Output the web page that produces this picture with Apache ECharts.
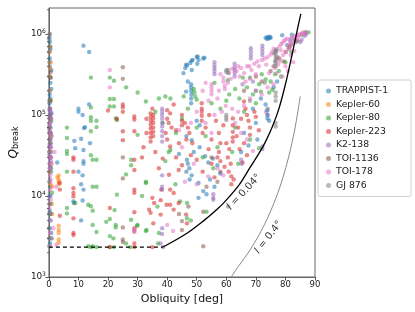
<!DOCTYPE html>
<html><head><meta charset="utf-8">
<script src="https://cdn.jsdelivr.net/npm/echarts@6/dist/echarts.min.js"></script>
<style>html,body{margin:0;padding:0;background:#fff}#c{width:415px;height:312px}</style>
</head><body><div id="c"></div>
<script>
// ---------- data (obliquity [deg], Q_break) ----------
const seriesNames = ['TRAPPIST-1','Kepler-60','Kepler-80','Kepler-223','K2-138','TOI-1136','TOI-178','GJ 876'];
const colors = ['#1f77b4','#ff7f0e','#2ca02c','#d62728','#9467bd','#8c564b','#e377c2','#7f7f7f'];
const xTicks = [0,10,20,30,40,50,60,70,80,90];
const yMajorTicks = [1e3,1e4,1e5,1e6];
const yMinorTicks = [2e3,3e3,4e3,5e3,6e3,7e3,8e3,9e3,2e4,3e4,4e4,5e4,6e4,7e4,8e4,9e4,2e5,3e5,4e5,5e5,6e5,7e5,8e5,9e5,2e6];

const trappist1 = [[0.3,8e5],[0.5,6.5e5],[0.3,5e5],[0.8,3.6e5],[0.6,2.9e5],[0.8,2.1e5],[0.5,1.6e5],[0.4,1.2e5],[0.9,1.05e5],[0.3,8e4],[0.6,6e4],[0.5,4e4],[0.3,3e4],[0.7,2e4],[0.4,1.3e4],[0.6,8e3],[0.5,5e3],[0.8,3.5e3],[0.4,2.6e3],[2.8,2.6e4],
[0.2,9e5],[0.4,7e5],[0.2,4.5e5],[0.5,2.5e5],[0.3,1.8e5],[0.2,1.4e5],[0.6,9e4],[0.2,7e4],[0.4,5e4],[0.2,3.5e4],[0.5,2.3e4],[0.2,1e4],[0.3,6.5e3],[0.2,4e3],[0.5,3e3],
[11.7,7.2e5],[13.6,6e5],[10,1.2e5],[10,1.1e5],[11.4,1.0e5],[13.6,1.35e5],[11.9,6.9e4],[12.2,7.1e4],[10.9,5.1e4],[8.6,4.8e4],[8.9,3.9e4],[11.7,3.7e4],[13.9,4.5e4],[11.7,2.7e4],[11.7,2.5e4],[10,2e4],[11.4,1.8e4],[10.9,1.4e4],[11.7,1.2e4],[8.3,8.6e3],[8.5,8.2e3],[11.4,8.8e3],[10.9,5e3],
[46.1,3.8e5],[46.4,4.2e5],[46.7,4.1e5],[47.8,4.4e5],[48.3,4.7e5],[48.6,4.8e5],[50,5.2e5],[50.3,5.3e5],[50.6,4.8e5],[52.2,5e5],[52.6,5.1e5],[48.3,3.6e5],[50.2,4.3e5],[45.5,3.3e5],
[48.1,2.4e5],[48.1,2.2e5],[48.1,2e5],[48.2,1.8e5],[48.1,1.6e5],[48.1,1.4e5],[46.4,1.95e5],[47,2.6e5],[50,8.5e4],[51,7.5e4],[48.3,4.9e4],[46.5,5.5e4],
[46.7,2.8e4],[47,2.5e4],[47.5,2.2e4],[46.5,2e4],[48.3,1.8e4],[47.6,1.6e4],[50.6,1.45e4],[52.2,1.15e4],[53.3,1.05e4],[50.6,9.5e3],[53.9,2.6e4],[52.8,3.1e4],[55.5,2.9e4],[57,2.4e4],[44,3.3e4],[49,3.5e4],[51,4e4],[56,1.3e4],[58,1.9e4],[54.5,1.6e4],
[73.3,9e5],[74,9.2e5],[74.5,8.9e5],[75,9e5],[73.8,8.7e5],[74.7,9.3e5],[82.2,9.8e5],[81.7,8.5e5],[80.6,7.3e5],[78.9,9.7e5],[86.7,1.03e6],[83.5,8e5],
[71.7,1.6e5],[73.3,1.35e5],[73.9,9.1e4],[74.5,8.5e4],[73.9,1.15e5],[73.9,1e5],[77.2,2.6e5],[76,2.2e5],[69,1.2e5],[70,8e4],[66,6e4],[65,3.5e4],[70.5,5e4],[67.5,4.2e4]];

const kepler60 = [[0.5,7e5],[0.6,4.5e5],[0.4,3e5],[0.7,1.5e5],[0.5,9e4],[0.8,5.5e4],[0.4,3.6e4],[0.6,2.5e4],[0.6,1.4e4],[1.1,1.3e4],[0.9,8e3],[1.1,6e3],
[0.3,6e5],[0.3,3.8e5],[0.3,2e5],[0.3,1.2e5],[0.3,7e4],[0.3,4.5e4],[0.3,2e4],
[3.3,1.8e4],[3.3,1.6e4],[3.3,1.5e4],[3.4,1.4e4],[2.9,1.7e4],[3.3,4.3e3],[3.3,3.8e3],[3.3,3.5e3],[3.3,2.9e3],[3.3,2.65e3]];

const kepler80 = [[0.8,8.3e4],[0.5,4.5e4],[0.7,2.2e4],[1,1.1e4],[0.6,6e3],[0.9,3e3],[0.4,1.5e5],
[14.2,2.9e5],[20.6,2.9e5],[22,2.65e5],[26.1,2.2e5],[30,1.9e5],[20.6,1.58e5],[22,1.58e5],[22,1.28e5],[20.6,1.28e5],[14.2,1.24e5],[14.2,9.4e4],[14.2,8.5e4],[16.1,8.5e4],[16.1,7.1e4],[22.6,9.1e4],[23,8.7e4],[6.1,7e4],[6.1,5.2e4],[14.2,6.3e4],[30,5.7e4],
[6.1,3.6e4],[6.1,3.3e4],[14.2,3.2e4],[14.8,2.8e4],[16.1,2.8e4],[6.1,2e4],[14.8,1.3e4],[16.1,1.3e4],[23,1.04e4],[8.9,8.2e3],[13.3,7.8e3],[14.2,7.5e3],[14.8,6.6e3],[6.1,7.1e3],[6.1,6.1e3],[20.6,5.2e3],[14.8,4.4e3],[16.1,3.6e3],[22.6,4.4e3],[22.6,4.1e3],[20.6,3.2e3],[21.8,3e3],[27.8,5.1e3],[29.8,4.3e3],
[13.3,2.4e3],[14.2,2.34e3],[14.8,2.4e3],[16.1,2.34e3],[20.6,2.34e3],[22,2.34e3],[26.1,2.6e3],[27.5,2.34e3],[33,3.8e3],[26.1,1.85e4],[27.8,2.4e4],[27.8,2.8e4],[32.8,1.5e4],[31.5,1e4],[22.2,6.7e3],[19.4,4.8e3],[30,4.4e3],[37.2,3.5e3],
[32.8,1.47e5],[37.2,1.6e5],[39.4,1.7e5],[41.1,1.6e5],[45.6,1.7e5],[49,2.1e5],[49.2,1.9e5],[49.5,1.7e5],[50,1.55e5],[36,1.1e5],[38.5,8e4],[43,6e4],[45,9e4],[47,1.2e5],
[40.5,3.5e4],[39.4,2.7e4],[41.1,3.7e4],[42.8,1.4e4],[44.4,8.6e3],[46.7,8.2e3],[46.7,5.3e3],[48,5e3],[36.7,7.4e3],[32.8,1.45e4],[55.6,2.2e4],[36.9,2.6e3],[32.8,3.7e3],[53.3,6.4e3],[52,3e4],[57,4e4],[53,5.5e4],[50,7e4],[58,1.2e5],[55,1.4e5],[56,2.5e5],[60.5,2.7e5],
[77.8,3.5e5],[76.5,3.2e5],[73.3,2.75e5],[71.1,2.4e5],[71.7,1.95e5],[75.6,2.05e5],[74.5,1.9e5],[64.4,1.6e5],[65.6,2.9e5],[67,2.2e5],[69,1.8e5],[72,3.2e5],[78.5,3e5],[75,2.6e5],[70,1.4e5],[66,1.1e5],[63,7e4],[68,5e4],[62,3.5e4],[71.1,3.9e4],[64,2.5e4],
[86.7,1.05e6],[87.8,1.05e6],[85.5,9.8e5],[80,4.5e5],[82,6e5],[61,1.8e5],[63,2.1e5],[68,2.9e5],[60,1.5e5]];

const kepler223 = [[0.5,1e5],[0.7,3e4],
[25,1.35e5],[25,1.25e5],[25,1.1e5],[20,1.14e5],[23,9e4],[28.9,9.6e4],[28.9,8.8e4],[25,6.3e4],[28.9,6.3e4],[25,4.9e4],[8.3,3e4],[8.3,2.8e4],[8.3,2e4],[3.7,1.45e4],[3.7,1.2e4],[8.3,1.25e4],[8.3,1.09e4],[8.3,9.9e3],[20.6,7.1e3],[28.9,6.3e3],[8.3,5.3e3],[8.3,3.5e3],[8.3,3.3e3],[28.9,4e3],[28.9,3.7e3],[28.9,2.6e3],[20.6,2.34e3],[28.9,2.34e3],[3.7,5.7e3],[28.9,2.8e4],[28.9,2.1e4],[28.9,1.2e4],[28.9,1.1e4],[35,2.34e3],[37.8,8.9e3],
[34.4,1.05e5],[34.4,9.5e4],[34.4,8.5e4],[34.4,7.6e4],[34.4,6.8e4],[34.4,6e4],[34.4,5.3e4],[34.4,4.7e4],[35.3,1e5],[35.3,9e4],[35.3,8e4],[35.3,7e4],[35.3,6.2e4],[35.3,5.5e4],[35,1.2e5],[33,9e4],[33,6e4],[40,1.15e5],[41,1.05e5],[42.2,1.35e5],[40,9e4],[40.5,8e4],[41.5,7e4],[39.5,6e4],[40,5e4],[45,1e5],[46,8e4],[47,7e4],[47.5,6e4],[46.5,5e4],[48.5,4.5e4],[45,8.5e4],[45,7.5e4],[43,6.5e4],
[51.7,1.4e5],[51.7,1.2e5],[51.7,1.1e5],[51.7,9.8e4],[51.7,8.5e4],[54.2,1e5],[53,7e4],[52,6e4],[55,5e4],[56.5,8.5e4],[57.5,6e4],[58,4.5e4],[59,7.5e4],
[41,4.1e4],[44,4.5e4],[37.2,2.2e4],[35,9.5e3],[35.6,8.2e3],[33.9,6.8e3],[34.4,6.2e3],[35.3,4.6e3],[37.8,5.9e3],[39.8,7.8e3],[41,7.8e3],[42.2,1.09e4],[43.9,8.2e3],[42.2,6.8e3],[40.6,1.83e4],[43.9,2.1e4],[46.4,5.9e3],[46.7,4.6e3],[38,1.2e4],[41,1.2e4],[45,2.4e4],[48,3.2e4],[50,2.8e4],[52,2e4],[55,2.5e4],[57,3e4],[59.4,2.3e4],[58,2.7e4],[57.5,3.5e4],[54,3.8e4],[56,1.7e4],[38.5,2.9e4],[36,3.5e4],[43,3e4],[32,4e4],[31.5,3e4],
[60,4.5e4],[61,3.8e4],[60.5,3e4],[61.5,2.5e4],[60.8,2e4],[61.7,1.75e4],[61.7,1.4e4],[62.5,1.6e4],[62.2,9.1e4],[62.2,7.5e4],[62.2,6.2e4],[62.2,5.3e4],[62.2,4.7e4],[66,1.47e5],[66.5,1.2e5],[67,1e5],[67.5,8.5e4],[68,7e4],[68,5.7e4],[66,4.5e4],[65,9e4],[64,7e4],[69.5,1.1e5],[70,9.5e4],[63.5,5.5e4],[64.5,3.8e4],[67,3.2e4],[65.5,2.6e4],[71,6.5e4]];

const k2138 = [[0.3,1.2e5],[0.6,1.1e5],[0.4,1e5],[0.8,9e4],[0.3,8e4],[0.6,7e4],[0.4,6e4],[0.9,5.5e4],[0.3,5e4],[0.6,4.5e4],[0.4,4e4],[0.8,3.5e4],[0.5,3e4],[0.7,2.7e4],[0.4,2.2e4],[0.5,1.6e4],[0.6,1e4],[0.4,6e3],
[0.2,1.15e5],[0.2,9.5e4],[0.2,7.5e4],[0.2,6.5e4],[0.2,4.2e4],[0.2,3.2e4],[0.2,2.5e4],
[38.3,1.2e5],[38.3,1.1e5],[38.3,1e5],[38.3,9e4],[38.3,8e4],[38.3,7.2e4],[38.3,6.3e4],[38.3,5.5e4],[38.3,4.7e4],[38.3,1.8e4],[38.3,1.3e4],[38.3,1.2e4],[38.3,4e3],[38.3,3.4e3],[37.8,2.6e3],[38.6,2.34e3],
[55.6,1.05e4],[55.6,9.5e3],[55.6,9e3],[56,4.5e5],[56,4.1e5],[56,3.8e5],[56,3.5e5],[56,3.2e5],[62.8,4.3e5],[62.8,3.9e5],[62.8,3.6e5],[62.8,3.3e5],[62.8,3e5],[68.3,6.7e5],[68.3,6.1e5],[68.3,5.5e5],[68.3,5e5],[72.2,7.2e5],[72.2,6.6e5],[72.2,6e5],[72.2,5.5e5],[72.2,4.1e4],[72.2,3.8e4],
[85.5,8.5e5],[86.5,9.5e5],[87,1e6],[85,8e5],[73.5,1.1e5],[74,1e5],[69,2.6e5],[65.5,2.4e5],[65,2.8e4],[65.2,2.5e4]];

const toi1136 = [[0.3,1.0e6],[0.6,3.4e5],[0.5,2.9e5],[0.4,1.5e5],[0.5,6e4],
[25,3.9e5],[25,2.8e5],[25,3e4],[25,1.65e4],[25,4.1e3],[25,2.9e3],[25,2.7e3],
[45,4.9e3],[47.2,7.4e3],[52.2,2.4e3],[53.3,1.3e4],[52.2,6.4e3],[45,3.8e3],[44,6e3],[57,1.5e4],[58,2e4],[55,3e4],
[81.1,6.7e5],[79.4,4.6e5],[83.3,8.5e5],[84,8.3e5],[82,7.5e5],[80,6e5],[78,5e5],[76,4e5],[75,3.5e5],[72,2.6e5],[70,3e5],[66,2e5],[81.5,7e5]];

const toi178 = [[0.6,5e4],[0.8,4e4],[1.9,3.5e4],[1,2.5e4],[0.5,1.8e4],[2.5,1.3e4],[0.7,9e3],[0.6,5e3],[1.5,4e3],[2.5,2.5e3],[0.9,3e3],[0.4,1.2e4],
[0.3,8e4],[0.2,6e4],[0.4,3e4],[0.2,2.2e4],[0.3,1.5e4],[0.2,7e3],[0.4,3.5e3],[0.3,2.4e3],
[20.6,3.6e5],[20.6,2.2e5],[28.9,3.9e3],[28.9,3.6e3],
[40,4.4e3],[50,1.4e4],[53.9,1.75e4],[42,3.7e3],[46,1.5e4],[55,2.4e5],[55,2.2e5],[55,2e5],[55,1.8e5],[59,2.9e5],[59,2.6e5],[59.5,2.3e5],[59.5,2.1e5],[53,2.5e5],[52,2e5],[57,1.6e5],[58,3.2e5],[57.5,2e5],[54,1.5e5],[50,1.1e5],[48,8e4],[44,6.5e4],[45,4e4],[53,8e4],[56,1e5],[55,6e4],[49,2.5e4],[57,2.2e4],[59,1.8e4],[58.5,1.1e5],[59.8,1.3e5],
[61,3.3e5],[62,3.7e5],[63.5,3.5e5],[64,4e5],[65,3.8e5],[66,3.3e5],[67,4e5],[67.8,4e5],[68.5,3.6e5],[69.5,4.3e5],[70.5,4.6e5],[71,4e5],[72,4.8e5],[73,5e5],[74,5.2e5],[75,5.6e5],[75.5,6e5],[76,6.6e5],[77,6.2e5],[78,7e5],[78.5,7.5e5],[79,7.8e5],[79.5,8.2e5],[80,8.5e5],[80.5,8.8e5],[81,7.2e5],[81.5,8e5],[82,9e5],[82.5,8.7e5],[83,9.2e5],[83.5,9.5e5],[84,9.8e5],[84.5,9.6e5],[85,1e6],[85.5,1.02e6],[86,1.05e6],[86.5,1e6],[87,1.06e6],
[84.2,9e5],[83.2,8.2e5],[82.2,7.8e5],[81.2,6.5e5],[80.2,6e5],[79.2,5.5e5],[78.2,4.6e5],[77.5,4.2e5],[76.5,3.8e5],[77,3.3e5],[80,4e5],[81.8,5.5e5],[83,6.2e5],[82.6,4.5e5],[80.8,3.5e5],[79,3e5],[76,2.4e5],[74,2.2e5],[72,1.8e5],[70,2e5],[68,1.6e5],[66,1.3e5],[64,1.1e5],[62,1.2e5],[63,8e4],[65,6e4],[67,5e4],[69,3.6e4],[61.5,2.8e5],[60.5,2.5e5],[74.5,3.3e5],[77.5,5.2e5],[78.5,6.3e5],[73.5,4.2e5],[70,3.2e5],[68,2.8e5],[66.5,2.6e5],[64.5,3e5]];

const gj876 = [[0.3,1e6],[0.2,7e5],[0.3,4e5],[0.2,2e5],[0.2,1e5],[0.3,5e4],[0.2,2e4],[0.3,8e3],[0.2,4e3],
[0.1,8.5e5],[0.1,6e5],[0.1,3e5],[0.1,1.5e5],[0.1,7e4],[0.1,3.5e4],[0.1,1.5e4],[0.1,6e3],[0.1,3e3],[0.1,2.4e3],
[76.7,6.3e5],[76.7,6e5],[76.7,5.6e5],[76.7,5.2e5],[76.7,4.8e5],[76.7,4.4e5],[76.7,4e5],[76.2,5.8e5],[77.2,5e5],[76.5,4.6e5],[77,6.5e5],[60,3.6e5],[60,3.4e5],[60.6,3.6e5],[60.6,3.3e5],[76.7,1.7e5],[76.7,1.9e5],[76.7,1.5e5],[76.7,7.2e4],[76.7,8e4],[60,1e5],[60,9.3e4],[60,8.7e4],[60.6,7.4e3],[73,2.5e5],[70,2e5],[68,1.5e5],[74,1.2e5]];

// theory curves
const curveL004 = [[38.6,2344],[46.7,3467],[52.2,4898],[56.7,6761],[60,8913],[64.4,13800],[68,22400],[71.1,33900],[73.1,45700],[75.6,72400],[77.8,120000],[80,240000],[82.2,550000],[84,1120000],[85.2,1780000]];
const floorLine = [[0,2340],[38.6,2340]];
const curveL04 = [[61.7,1000],[64,1340],[66,1680],[68,2150],[71.1,3320],[73.5,4930],[75.6,7350],[77.5,11100],[78.9,15800],[80.5,25200],[81.7,37500],[83,62000],[84.2,110000],[85,170000]];
const labelL004 = [[66,11200]];
const labelL04 = [[74.3,3100]];

const allSeriesData = [trappist1,kepler60,kepler80,kepler223,k2138,toi1136,toi178,gj876];

// ---------- chart ----------
const chart = echarts.init(document.getElementById('c'), null, {renderer:'canvas'});
const FONT = 'DejaVu Sans';
const scatterSeries = seriesNames.map((n,i)=>({
  name:n, type:'scatter', data: allSeriesData[i], symbolSize:4.4,
  itemStyle:{color:colors[i], opacity:0.55}, emphasis:{disabled:true}, z:2
}));

const option = {
  animation:false,
  textStyle:{fontFamily:FONT},
  grid:{left:45,right:100,top:8,bottom:35,show:true,borderColor:'#666',borderWidth:1,backgroundColor:'transparent'},
  legend:{
    data: seriesNames, orient:'vertical', left:318, top:80,
    icon:'circle', itemWidth:5, itemHeight:5, itemGap:3.5,
    padding:[6,23,6,8], borderColor:'#d0d0d0', borderWidth:1, borderRadius:2,
    textStyle:{fontFamily:FONT, fontSize:9.3, color:'#222', lineHeight:10},
    itemStyle:{opacity:0.55}
  },
  xAxis:{
    type:'value', min:0, max:90, interval:10,
    name:'Obliquity [deg]', nameLocation:'middle', nameGap:14,
    nameTextStyle:{fontFamily:FONT, fontSize:11, color:'#111'},
    axisLine:{show:true, onZero:false, lineStyle:{color:'#666',width:1}},
    axisTick:{show:true, length:3.5, lineStyle:{color:'#333',width:0.8}},
    axisLabel:{fontFamily:FONT, fontSize:8.5, color:'#222', margin:3},
    splitLine:{show:false}
  },
  yAxis:{
    type:'log', logBase:10, min:1000, max:2.1e6,
    name:'{q|Q}{s|break}', nameLocation:'middle', nameRotate:90, nameGap:28,
    nameTextStyle:{fontFamily:FONT, color:'#111', rich:{
      q:{fontFamily:FONT, fontSize:12, fontStyle:'italic', color:'#111'},
      s:{fontFamily:FONT, fontSize:8, color:'#111', padding:[4,0,0,0]}
    }},
    axisLine:{show:true, lineStyle:{color:'#666',width:1}},
    axisTick:{show:true, length:3.5, lineStyle:{color:'#333',width:0.8}, customValues: yMajorTicks},
    axisLabel:{fontFamily:FONT, fontSize:8.5, color:'#222', margin:3, customValues: yMajorTicks,
      formatter:function(v){const e=Math.round(Math.log10(v)); return '{b|10}{s|'+e+'}';},
      rich:{b:{fontFamily:FONT,fontSize:8.8,color:'#222'}, s:{fontFamily:FONT,fontSize:6,color:'#222',padding:[0,0,6,0]}}
    },
    splitLine:{show:false}, minorTick:{show:false}
  },
  series: scatterSeries.concat([
    {type:'line', data:floorLine, symbol:'none', lineStyle:{color:'#000',width:1.1,type:[4,3]}, z:5, silent:true},
    {type:'line', data:curveL004, symbol:'none', smooth:0.35, lineStyle:{color:'#000',width:1.3}, z:5, silent:true},
    {type:'line', data:curveL04, symbol:'none', smooth:0.3, lineStyle:{color:'#888',width:1}, z:5, silent:true},
    {type:'scatter', data:labelL004, symbolSize:0, silent:true, z:6,
      label:{show:true, position:'inside', rotate:47, formatter:'{i|l} = 0.04°', color:'#000',
        fontFamily:FONT, fontSize:10, rich:{i:{fontFamily:FONT,fontSize:10,fontStyle:'italic',color:'#000'}}}},
    {type:'scatter', data:labelL04, symbolSize:0, silent:true, z:6,
      label:{show:true, position:'inside', rotate:52, formatter:'{i|l} = 0.4°', color:'#000',
        fontFamily:FONT, fontSize:10, rich:{i:{fontFamily:FONT,fontSize:10,fontStyle:'italic',color:'#000'}}}},
    {type:'custom', data: yMinorTicks.map(v=>[0,v]), silent:true, clip:false, z:7,
      renderItem:function(params, api){
        const p = api.coord([0, api.value(1)]);
        return {type:'line', shape:{x1:p[0]-2, y1:p[1], x2:p[0], y2:p[1]}, style:{stroke:'#333', lineWidth:0.7}};
      }}
  ])
};
chart.setOption(option);
</script>
</body></html>
